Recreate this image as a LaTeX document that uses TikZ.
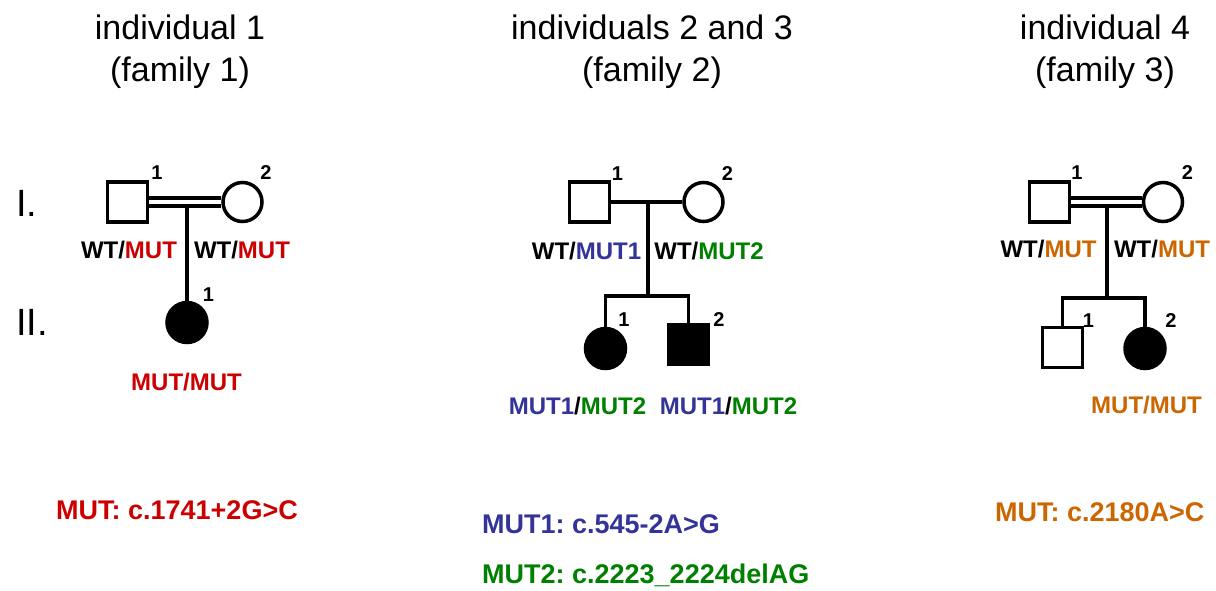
\documentclass[tikz,border=0pt]{standalone}
\usepackage{fontspec}
\setmainfont{Liberation Sans}
\frenchspacing
\usetikzlibrary{calc}
\definecolor{mutred}{HTML}{CC0000}
\definecolor{mutblue}{HTML}{333399}
\definecolor{mutgreen}{HTML}{008000}
\definecolor{mutorange}{HTML}{CC6600}
\tikzset{
  x=1pt, y=-1pt,
  line/.style={line width=3.5pt},
  male/.style={draw, line width=3.5pt, rectangle, minimum size=40pt, inner sep=0pt, fill=white},
  female/.style={draw, line width=3.5pt, circle, minimum size=39pt, inner sep=0pt, fill=white},
  affected/.style={fill=black},
  ttl/.style={anchor=base, inner sep=0pt, font=\fontsize{34}{40}\selectfont},
  gen/.style={anchor=base west, inner sep=0pt, font=\fontsize{38}{44}\selectfont},
  num/.style={anchor=base, inner sep=0pt, font=\fontsize{20}{24}\selectfont\bfseries},
  geno/.style={anchor=base, inner sep=0pt, font=\fontsize{24}{28}\selectfont\bfseries},
  legend/.style={anchor=base west, inner sep=0pt, font=\fontsize{27}{32}\selectfont\bfseries},
}
\begin{document}
\begin{tikzpicture}
\useasboundingbox (0,0) rectangle (1216,590);

% ---------- titles ----------
\node[ttl] (t1a) at (180,39) {individual 1};
\node[ttl] (t1b) at (180,81) {(family 1)};
\node[ttl] (t2a) at (652,39) {individuals 2 and 3};
\node[ttl] (t2b) at (652,81) {(family 2)};
\node[ttl] (t3a) at (1105,39) {individual 4};
\node[ttl] (t3b) at (1105,81) {(family 3)};

% ---------- generation labels ----------
\node[gen] (g1) at (16,216) {I.};
\node[gen] (g2) at (16,335) {II.};

% ---------- family 1 ----------
\node[male]   (f1a) at (127.5,202) {};
\node[female] (f1b) at (242.5,202) {};
\node[female, affected, minimum size=40pt] (f1c) at (187,322.5) {};
\coordinate (f1m) at (187,206);
\draw[line] ([yshift=4pt]f1a.east) -- ([yshift=4pt]f1b.west);
\draw[line] ([yshift=-4pt]f1a.east) -- ([yshift=-4pt]f1b.west);
\draw[line] (f1m) -- (f1c.north);
\node[num] (n1a) at (157,179) {1};
\node[num] (n1b) at (266,179) {2};
\node[num] (n1c) at (208.5,301) {1};
\node[geno] (w1a) at (129,258) {WT/\textcolor{mutred}{MUT}};
\node[geno] (w1b) at (242,258) {WT/\textcolor{mutred}{MUT}};
\node[geno, mutred] (w1c) at (186.5,390) {MUT/MUT};
\node[legend, mutred] (l1) at (56,519) {MUT: c.1741+2G>C};

% ---------- family 2 ----------
\node[male]   (f2a) at (589.5,202) {};
\node[female] (f2b) at (703.5,202) {};
\node[female, affected, minimum size=40pt] (f2c) at (605.5,348.5) {};
\node[male, affected] (f2d) at (688.5,344.5) {};
\coordinate (f2m) at (648,202);
\coordinate (f2s) at (648,296);
\draw[line] (f2a.east) -- (f2b.west);
\draw[line] (f2m) -- (f2s);
\draw[line] (f2c.north) |- (f2s) -| (f2d.north);
\node[num] (n2a) at (617.5,180) {1};
\node[num] (n2b) at (727.5,180) {2};
\node[num] (n2c) at (624,326) {1};
\node[num] (n2d) at (719,326) {2};
\node[geno] (w2a) at (586.5,259) {WT/\textcolor{mutblue}{MUT1}};
\node[geno] (w2b) at (709,259) {WT/\textcolor{mutgreen}{MUT2}};
\node[geno] (w2c) at (577.5,414) {\textcolor{mutblue}{MUT1}/\textcolor{mutgreen}{MUT2}};
\node[geno] (w2d) at (728.5,414) {\textcolor{mutblue}{MUT1}/\textcolor{mutgreen}{MUT2}};
\node[legend, mutblue]  (l2a) at (482,533) {MUT1: c.545-2A>G};
\node[legend, mutgreen] (l2b) at (482,583) {MUT2: c.2223\_2224delAG};

% ---------- family 3 ----------
\node[male]   (f3a) at (1049.5,202) {};
\node[female] (f3b) at (1163,202) {};
\node[male]   (f3c) at (1062.5,347.5) {};
\node[female, affected, minimum size=40pt] (f3d) at (1145,348.5) {};
\coordinate (f3m) at (1107,206);
\coordinate (f3s) at (1107,298);
\draw[line] ([yshift=4pt]f3a.east) -- ([yshift=4pt]f3b.west);
\draw[line] ([yshift=-4pt]f3a.east) -- ([yshift=-4pt]f3b.west);
\draw[line] (f3m) -- (f3s);
\draw[line] (f3c.north) |- (f3s) -| (f3d.north);
\node[num] (n3a) at (1077,179) {1};
\node[num] (n3b) at (1187.5,179) {2};
\node[num] (n3c) at (1088.5,327) {1};
\node[num] (n3d) at (1171,327) {2};
\node[geno] (w3a) at (1048.5,257) {WT/\textcolor{mutorange}{MUT}};
\node[geno] (w3b) at (1162,257) {WT/\textcolor{mutorange}{MUT}};
\node[geno, mutorange] (w3c) at (1146.5,413) {MUT/MUT};
\node[legend, mutorange] (l3) at (995,521) {MUT: c.2180A>C};
\end{tikzpicture}
\end{document}
